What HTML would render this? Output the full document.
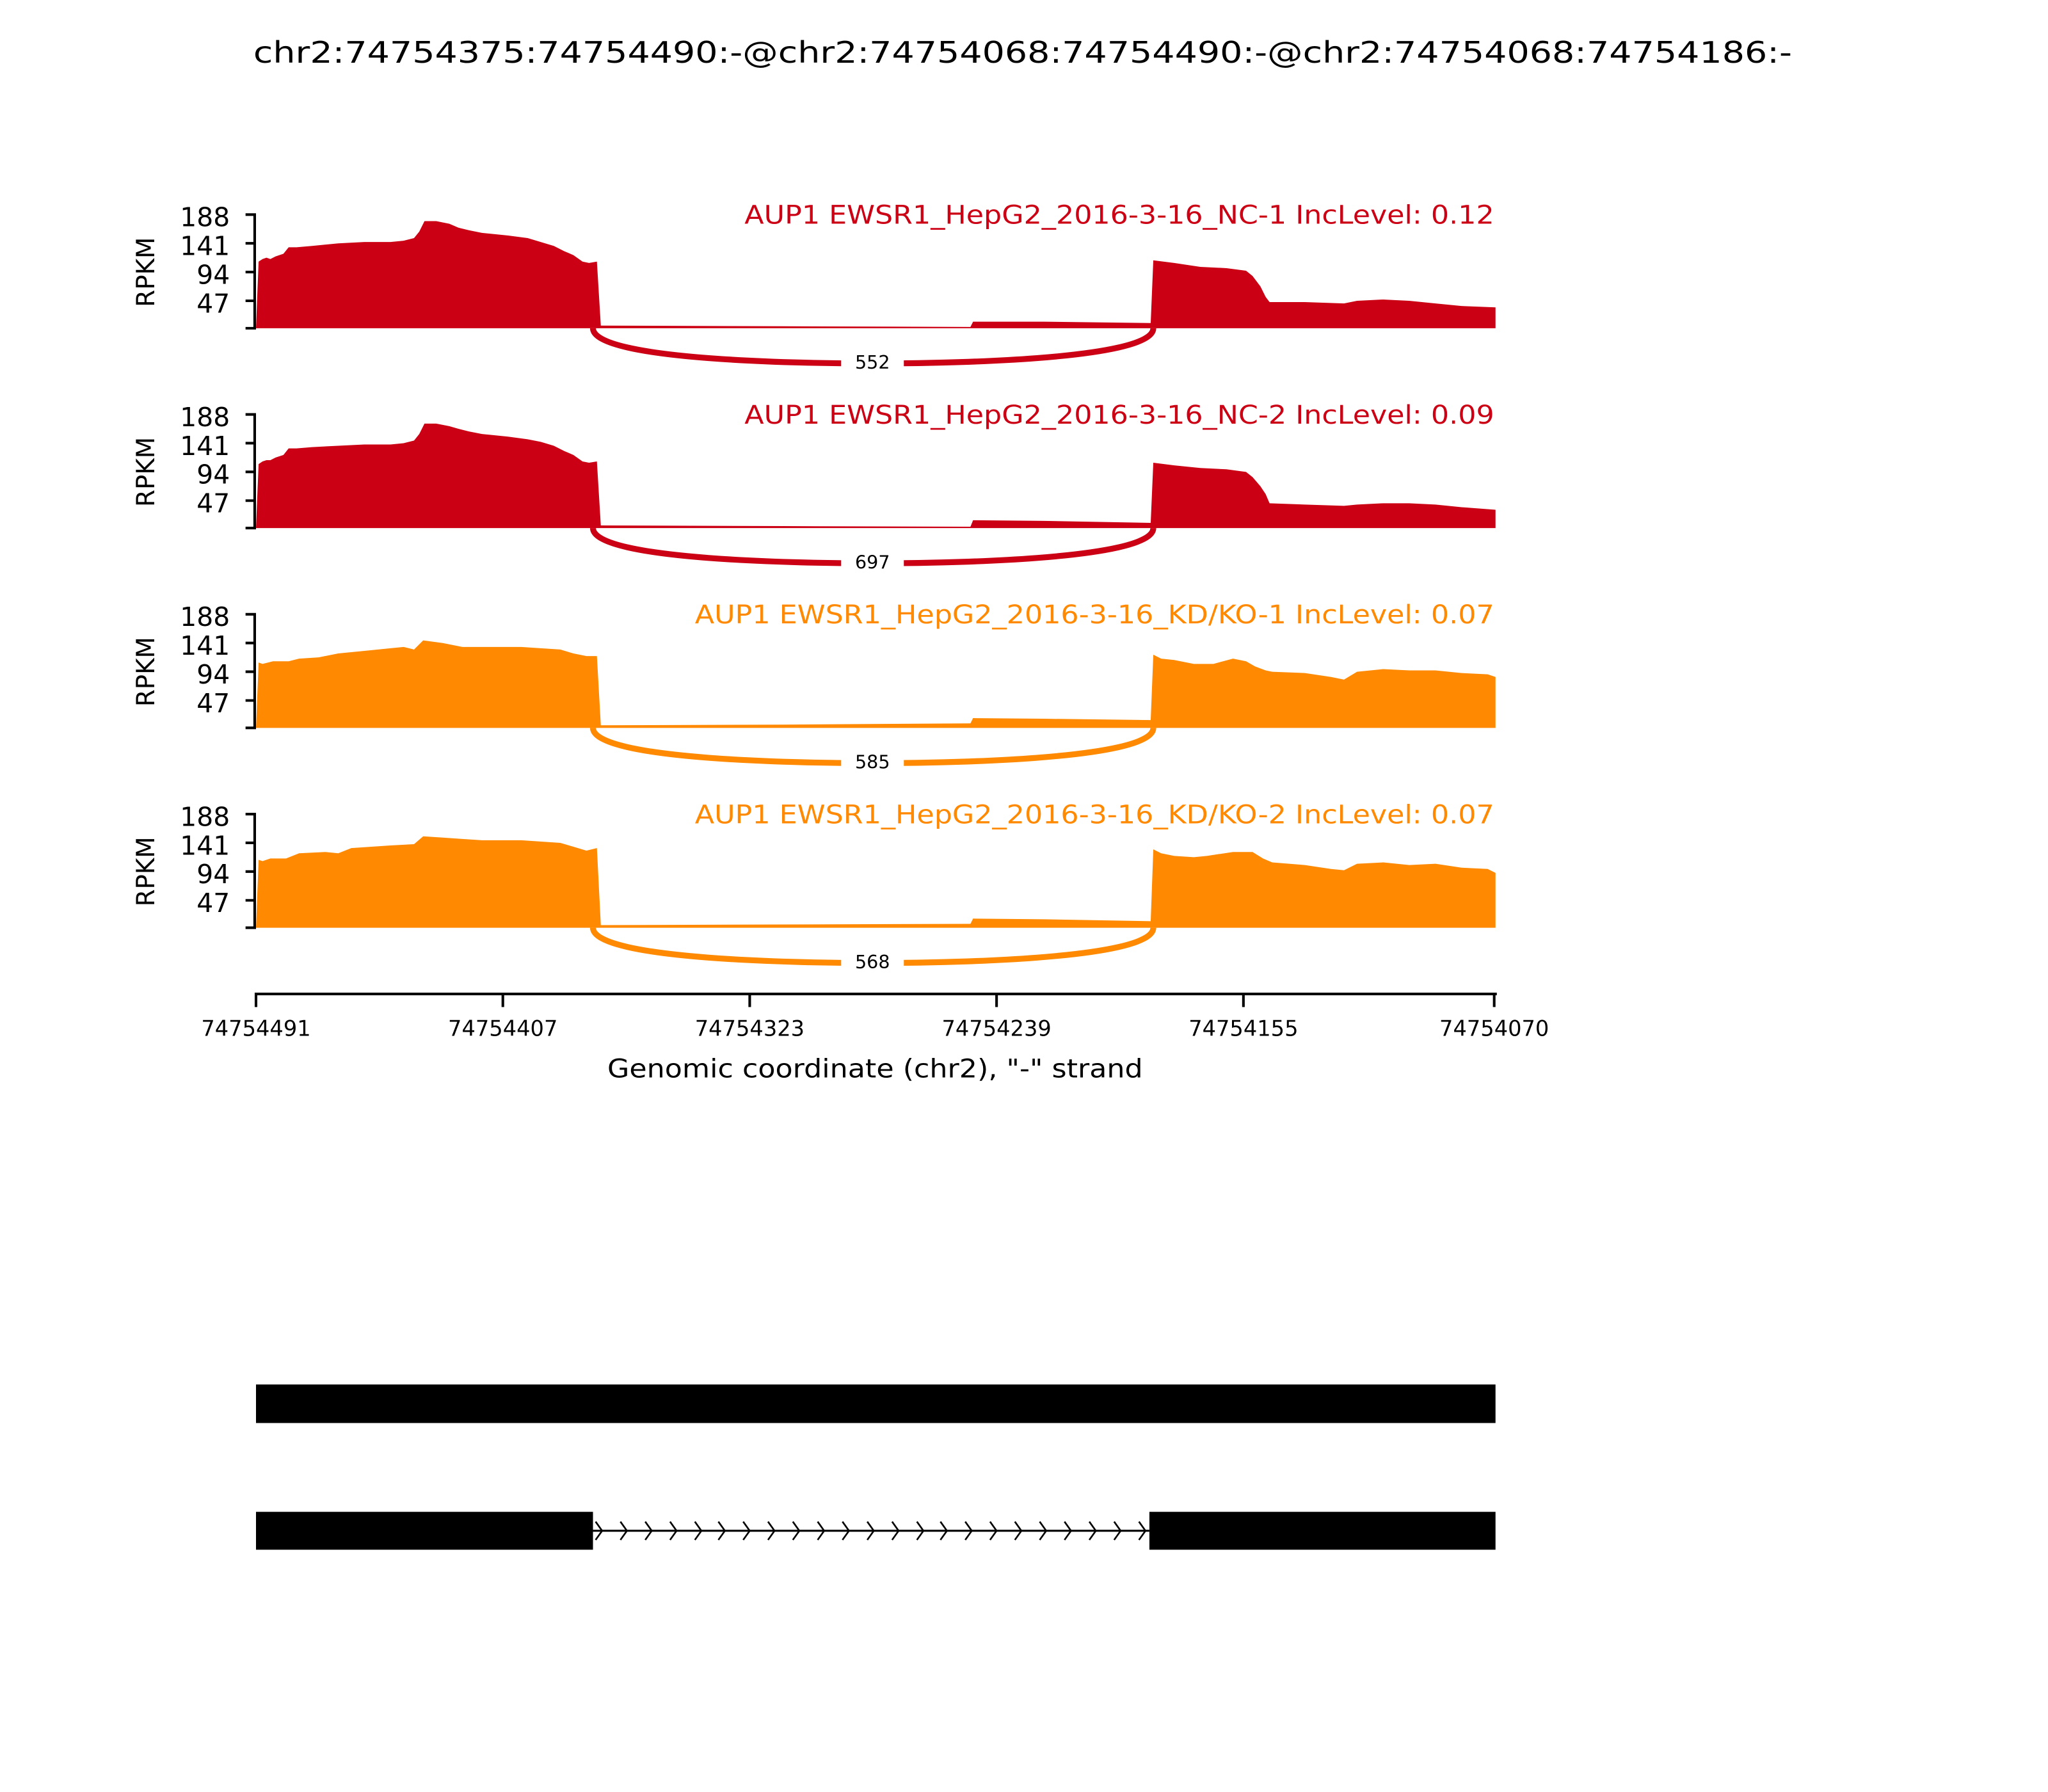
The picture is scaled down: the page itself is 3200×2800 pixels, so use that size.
<!DOCTYPE html>
<html><head><meta charset="utf-8"><style>html,body{margin:0;padding:0;background:#fff}svg{display:block}</style></head>
<body>
<svg width="3200" height="2800" viewBox="1 0 1568 1372" xmlns="http://www.w3.org/2000/svg" font-family="'DejaVu Sans','Liberation Sans',sans-serif">
<rect x="0" width="1570" height="1372" fill="#fff"/>
<text x="784" y="48" font-size="22.5" text-anchor="middle" textLength="1178" lengthAdjust="spacingAndGlyphs">chr2:74754375:74754490:-@chr2:74754068:74754490:-@chr2:74754068:74754186:-</text>

<defs>
<g id="axis">
<path d="M189,163 H196 V250 H189 M189,185 H196 M189,207 H196 M189,229 H196" fill="none" stroke="#000" stroke-width="2"/>
<text font-size="20" text-anchor="end" x="177">
<tspan x="177" y="172">188</tspan><tspan x="177" y="194">141</tspan><tspan x="177" y="216">94</tspan><tspan x="177" y="238">47</tspan></text>
<text font-size="19" text-anchor="middle" transform="translate(119,207) rotate(-90)">RPKM</text>
</g>
</defs>

<g transform="translate(0,1.3)">
<!-- Panel 1 -->
<g>
<use href="#axis"/>
<path fill="#cc0014" d="M197,250 L199,199 202,197 205,196 208,197 212,195 218,193 222,188 228,188 240,187 260,185 280,184 300,184 310,183 318,181 322,176 326,168 335,168 345,170 352,173 360,175 370,177 390,179 405,181 415,184 425,187 433,191 440,194 447,199 452,200 458,199 461,248 600,248.5 744,249 746,245 800,245 882,246 884,198 900,200 920,203 940,204 955,206 960,210 966,218 970,226 973,230 1000,230 1030,231 1040,229 1060,228 1080,229 1100,231 1120,233 1146,234 1146,250 Z"/>
<path d="M455,250 C455,275 620,277 669,277 C718,277 884,275 884,250" fill="none" stroke="#cc0014" stroke-width="4.5"/>
<rect x="645" y="266" width="48" height="18" fill="#fff"/>
<text x="669" y="281" font-size="14" text-anchor="middle">552</text>
<text x="1145" y="170" font-size="19.5" fill="#cc0014" text-anchor="end" textLength="574" lengthAdjust="spacingAndGlyphs">AUP1 EWSR1_HepG2_2016-3-16_NC-1 IncLevel: 0.12</text>
</g>

<!-- Panel 2 -->
<g transform="translate(0,153)">
<use href="#axis"/>
<path fill="#cc0014" d="M197,250 L199,201 202,199 205,198 208,198 212,196 218,194 222,189 228,189 240,188 260,187 280,186 300,186 310,185 318,183 322,178 326,170 335,170 345,172 352,174 360,176 370,178 390,180 405,182 415,184 425,187 433,191 440,194 447,199 452,200 458,199 461,248 600,248.5 744,249 746,244 800,244.5 882,246 884,200 900,202 920,204 940,205 955,207 960,211 966,218 970,224 973,231 1000,232 1030,233 1040,232 1060,231 1080,231 1100,232 1120,234 1146,236 1146,250 Z"/>
<path d="M455,250 C455,275 620,277 669,277 C718,277 884,275 884,250" fill="none" stroke="#cc0014" stroke-width="4.5"/>
<rect x="645" y="266" width="48" height="18" fill="#fff"/>
<text x="669" y="281" font-size="14" text-anchor="middle">697</text>
<text x="1145" y="170" font-size="19.5" fill="#cc0014" text-anchor="end" textLength="574" lengthAdjust="spacingAndGlyphs">AUP1 EWSR1_HepG2_2016-3-16_NC-2 IncLevel: 0.09</text>
</g>

<!-- Panel 3 -->
<g transform="translate(0,306)">
<use href="#axis"/>
<path fill="#ff8900" d="M197,250 L199,200 202,201 210,199 222,199 230,197 245,196 260,193 280,191 300,189 310,188 318,190 325,183 340,185 355,188 370,188 400,188 430,190 440,193 450,195 458,195 461,248 600,247.5 744,246.5 746,242.5 800,243 882,244 884,194 890,197 900,198 915,201 930,201 945,197 955,199 962,203 970,206 975,207 1000,208 1020,211 1030,213 1040,207 1060,205 1080,206 1100,206 1120,208 1140,209 1146,211 1146,250 Z"/>
<path d="M455,250 C455,275 620,277 669,277 C718,277 884,275 884,250" fill="none" stroke="#ff8900" stroke-width="4.5"/>
<rect x="645" y="266" width="48" height="18" fill="#fff"/>
<text x="669" y="281" font-size="14" text-anchor="middle">585</text>
<text x="1145" y="170" font-size="19.5" fill="#ff8900" text-anchor="end" textLength="612" lengthAdjust="spacingAndGlyphs">AUP1 EWSR1_HepG2_2016-3-16_KD/KO-1 IncLevel: 0.07</text>
</g>

<!-- Panel 4 -->
<g transform="translate(0,459)">
<use href="#axis"/>
<path fill="#ff8900" d="M197,250 L199,198 202,199 208,197 220,197 230,193 250,192 260,193 270,189 300,187 318,186 325,180 340,181 355,182 370,183 400,183 430,185 440,188 450,191 458,189 461,248 600,247.5 744,247 746,243 800,243.5 882,245 884,190 890,193 900,195 915,196 925,195 945,192 960,192 968,197 975,200 1000,202 1020,205 1030,206 1040,201 1060,200 1080,202 1100,201 1120,204 1140,205 1146,208 1146,250 Z"/>
<path d="M455,250 C455,275 620,277 669,277 C718,277 884,275 884,250" fill="none" stroke="#ff8900" stroke-width="4.5"/>
<rect x="645" y="266" width="48" height="18" fill="#fff"/>
<text x="669" y="281" font-size="14" text-anchor="middle">568</text>
<text x="1145" y="170" font-size="19.5" fill="#ff8900" text-anchor="end" textLength="612" lengthAdjust="spacingAndGlyphs">AUP1 EWSR1_HepG2_2016-3-16_KD/KO-2 IncLevel: 0.07</text>
</g>
</g>

<!-- X axis -->
<path d="M196,761 H1147 M197,761 V771 M386,761 V771 M575,761 V771 M764,761 V771 M953,761 V771 M1145,761 V771" fill="none" stroke="#000" stroke-width="2"/>
<g font-size="16.5" text-anchor="middle">
<text x="197" y="793">74754491</text>
<text x="386" y="793">74754407</text>
<text x="575" y="793">74754323</text>
<text x="764" y="793">74754239</text>
<text x="953" y="793">74754155</text>
<text x="1145" y="793">74754070</text>
</g>
<text x="671" y="825" font-size="19.5" text-anchor="middle" textLength="410" lengthAdjust="spacingAndGlyphs">Genomic coordinate (chr2), "-" strand</text>

<!-- Gene tracks -->
<rect x="197" y="1060" width="949" height="29.5" fill="#000"/>
<rect x="197" y="1157.5" width="258" height="29" fill="#000"/>
<rect x="881" y="1157.5" width="265" height="29" fill="#000"/>
<line x1="455" y1="1172" x2="881" y2="1172" stroke="#000" stroke-width="1.5"/>
<path fill="none" stroke="#000" stroke-width="1.3" d="M457,1165 L462,1172 457,1179 M476,1165 L481,1172 476,1179 M495,1165 L500,1172 495,1179 M514,1165 L519,1172 514,1179 M533,1165 L538,1172 533,1179 M551,1165 L556,1172 551,1179 M570,1165 L575,1172 570,1179 M589,1165 L594,1172 589,1179 M608,1165 L613,1172 608,1179 M627,1165 L632,1172 627,1179 M646,1165 L651,1172 646,1179 M665,1165 L670,1172 665,1179 M684,1165 L689,1172 684,1179 M703,1165 L708,1172 703,1179 M721,1165 L726,1172 721,1179 M740,1165 L745,1172 740,1179 M759,1165 L764,1172 759,1179 M778,1165 L783,1172 778,1179 M797,1165 L802,1172 797,1179 M816,1165 L821,1172 816,1179 M835,1165 L840,1172 835,1179 M854,1165 L859,1172 854,1179 M873,1165 L878,1172 873,1179"/>
</svg>
</body></html>
